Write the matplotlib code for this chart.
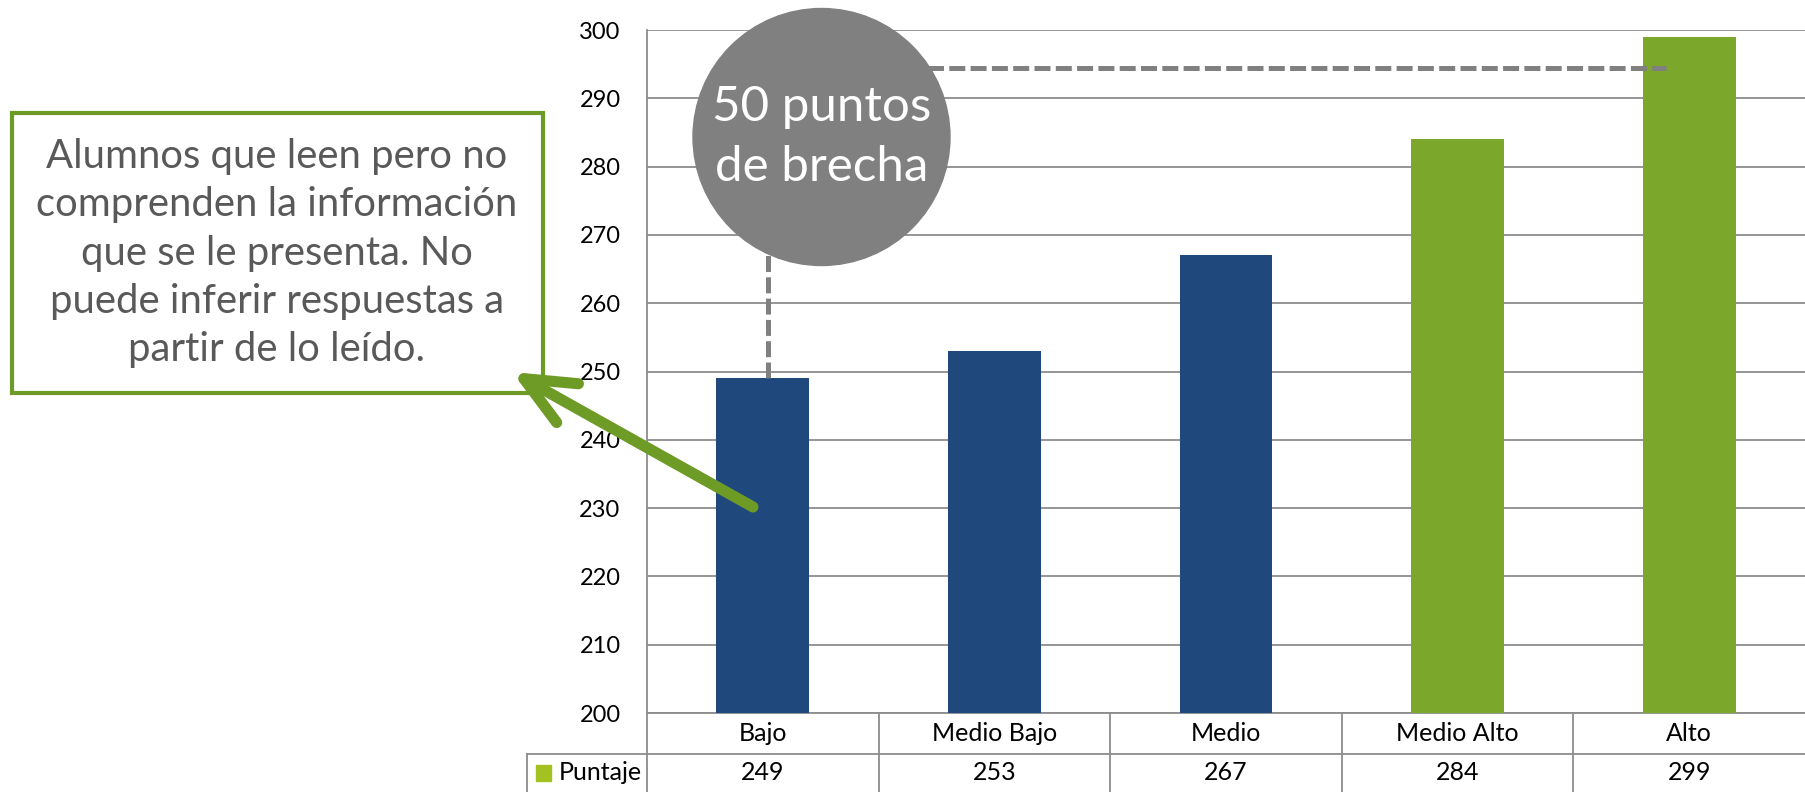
import matplotlib
matplotlib.use("Agg")
import matplotlib.pyplot as plt
from matplotlib.patches import Rectangle, Ellipse, FancyArrowPatch
from matplotlib.transforms import blended_transform_factory

plt.rcParams["font.family"] = ["Lato", "DejaVu Sans"]

# data
categories = ["Bajo", "Medio Bajo", "Medio", "Medio Alto", "Alto"]
puntaje = [249, 253, 267, 284, 299]
bar_colors = ["#1F497D", "#1F497D", "#1F497D", "#7BA72B", "#7BA72B"]
series_name = "Puntaje"
y_ticks = list(range(200, 301, 10))

note_text = ("Alumnos que leen pero no\ncomprenden la información\n"
             "que se le presenta. No\npuede inferir respuestas a\npartir de lo leído.")
gap_text = "50 puntos\nde brecha"
gap_line_y = 294.4

W, H = 1805, 792
GRID = "#8C8C8C"
GREEN_DARK = "#6E9A26"


def fx(x):
    return x / W


def fy(y):
    return 1 - y / H


fig = plt.figure(figsize=(W / 100, H / 100), dpi=100)
ax = fig.add_axes([fx(647), fy(713), fx(W - 647), (713 - 30) / H])

x = range(len(categories))
ax.bar(x, puntaje, width=0.4, color=bar_colors, zorder=3)
ax.set_xlim(-0.5, len(categories) - 0.5)
ax.set_ylim(200, 300)
ax.set_yticks(y_ticks)
ax.set_xticks([])
ax.tick_params(axis="y", length=0, pad=19, labelsize=17, labelcolor="black")
ax.yaxis.grid(True, color=GRID, lw=1.3, zorder=0)
for side in ["top", "right"]:
    ax.spines[side].set_visible(False)
for side in ["left", "bottom"]:
    ax.spines[side].set_color(GRID)
    ax.spines[side].set_linewidth(1.3)

# data table under the plot
tr = blended_transform_factory(ax.transData, ax.transAxes)
ax_h = 713 - 30
row1 = -(754 - 713) / ax_h
row2 = -(H - 713) / ax_h
leg_left = (527 - 647) / (W - 647)
for i in range(1, len(categories)):
    ax.plot([i - 0.5, i - 0.5], [0, row2], transform=tr, color=GRID, lw=1.3, clip_on=False)
ax.plot([leg_left, 1], [row1, row1], transform=ax.transAxes, color=GRID, lw=1.3, clip_on=False)
ax.plot([leg_left, leg_left], [row1, row2], transform=ax.transAxes, color=GRID, lw=1.3, clip_on=False)
ax.plot([0, 0], [0, row2], transform=ax.transAxes, color=GRID, lw=1.3, clip_on=False)
for i, (c, v) in enumerate(zip(categories, puntaje)):
    ax.text(i, row1 / 2, c, transform=tr, ha="center", va="center", fontsize=18)
    ax.text(i, (row1 + row2) / 2, str(v), transform=tr, ha="center", va="center", fontsize=18)
ax.add_patch(Rectangle((leg_left + 0.008, (row1 + row2) / 2 - 0.011), 0.013, 0.022,
                       transform=ax.transAxes, color="#A3C11F", clip_on=False))
ax.text(leg_left + 0.027, (row1 + row2) / 2, series_name, transform=ax.transAxes,
        ha="left", va="center", fontsize=18)

# gap annotation: dashed guides + grey circle
ax.plot([0.25, 3.9], [gap_line_y, gap_line_y], color="#808080", lw=3.6,
        ls=(0, (3.2, 1.06)), zorder=4, clip_on=False)
ax.plot([0.022, 0.022], [puntaje[0], 290], color="#808080", lw=3.6,
        ls=(0, (3.2, 1.06)), zorder=4, clip_on=False)
circ = Ellipse((821.5 / 100, (H - 137) / 100), 2.57, 2.57, transform=fig.dpi_scale_trans,
               color="#808080", zorder=10)
fig.add_artist(circ)
fig.text(fx(821.5), fy(137), gap_text, ha="center", va="center", color="white",
         fontsize=35.5, linespacing=1.42, zorder=11)

# note box + arrow
box = Rectangle((fx(11.5), fy(393)), fx(543 - 11.5), (393 - 113) / H, transform=fig.transFigure,
                facecolor="white", edgecolor=GREEN_DARK, lw=3, zorder=5)
fig.add_artist(box)
fig.text(fx(277), fy(253), note_text, ha="center", va="center", color="#595959",
         fontsize=28.8, linespacing=1.38, zorder=6)
arrow = FancyArrowPatch((fx(753), fy(507)), (fx(512), fy(372)), transform=fig.transFigure,
                        arrowstyle="->,head_length=36,head_width=16", mutation_scale=1,
                        color=GREEN_DARK, lw=8, shrinkA=0, shrinkB=0,
                        joinstyle="round", capstyle="round", zorder=7)
fig.add_artist(arrow)

fig.savefig("out.png", dpi=100)
